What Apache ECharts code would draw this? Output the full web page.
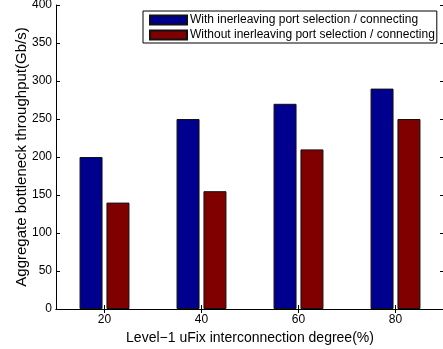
<!DOCTYPE html>
<html><head><meta charset="utf-8">
<script src="https://cdn.jsdelivr.net/npm/echarts@6/dist/echarts.min.js"></script>
<style>html,body{margin:0;padding:0;background:#fff}#c{width:443px;height:349px}</style>
</head><body><div id="c"></div>
<script>
var categories = ['20', '40', '60', '80'];
var seriesNames = ['With inerleaving port selection / connecting', 'Without inerleaving port selection / connecting'];
var withInterleaving = [200, 250, 270, 290];
var withoutInterleaving = [140, 155, 210, 250];
var yTicks = [0, 50, 100, 150, 200, 250, 300, 350, 400];

var FONT = 'Liberation Sans, Arial, Helvetica, sans-serif';
var chart = echarts.init(document.getElementById('c'), null, {renderer: 'canvas'});
var axisLine = {show: true, lineStyle: {color: '#000', width: 1}};
chart.setOption({
  animation: false,
  backgroundColor: '#fff',
  textStyle: {fontFamily: FONT},
  grid: {left: 56, top: 5, width: 388, height: 304, containLabel: false, outerBoundsMode: 'none'},
  legend: {
    orient: 'vertical', left: 143, top: 11,
    padding: [2, 2, 1, 6],
    itemWidth: 37, itemHeight: 9, itemGap: 1,
    backgroundColor: '#fff', borderColor: '#000', borderWidth: 1,
    icon: 'rect',
    textStyle: {fontFamily: FONT, fontSize: 12, lineHeight: 14, color: '#000', padding: [0, 0, 0, -2]},
    data: seriesNames
  },
  xAxis: [{
    type: 'category', data: categories, position: 'bottom',
    boundaryGap: true,
    axisLine: axisLine,
    axisTick: {show: true, inside: true, alignWithLabel: true, length: 4, lineStyle: {color: '#000'}},
    axisLabel: {fontFamily: FONT, fontSize: 12, color: '#000', margin: 5},
    name: 'Level\u22121 uFix interconnection degree(%)',
    nameLocation: 'middle', nameGap: 22, nameMoveOverlap: false,
    nameTextStyle: {fontFamily: FONT, fontSize: 14, color: '#000'},
    splitLine: {show: false}
  }, {
    type: 'category', data: categories, position: 'top',
    boundaryGap: true,
    axisLine: axisLine,
    axisTick: {show: true, inside: true, alignWithLabel: true, length: 4, lineStyle: {color: '#000'}},
    axisLabel: {show: false},
    splitLine: {show: false}
  }],
  yAxis: [{
    type: 'value', min: 0, max: 400, interval: 50, position: 'left',
    axisLine: axisLine,
    axisTick: {show: true, inside: true, length: 4, lineStyle: {color: '#000'}},
    axisLabel: {fontFamily: FONT, fontSize: 12, color: '#000', margin: 4,
      formatter: function (v) { return yTicks.indexOf(v) >= 0 ? String(v) : ''; }},
    splitLine: {show: false},
    name: 'Aggregate bottleneck throughput(Gb/s)',
    nameLocation: 'middle', nameGap: 27, nameRotate: 90, nameMoveOverlap: false,
    nameTextStyle: {fontFamily: FONT, fontSize: 15, color: '#000'}
  }, {
    type: 'value', min: 0, max: 400, interval: 50, position: 'right',
    axisLine: axisLine,
    axisTick: {show: true, inside: true, length: 4, lineStyle: {color: '#000'}},
    axisLabel: {show: false},
    splitLine: {show: false}
  }],
  series: [{
    name: seriesNames[0], type: 'bar', data: withInterleaving,
    barWidth: 23, barGap: '17%',
    itemStyle: {color: '#00008f', borderColor: '#111', borderWidth: 1}
  }, {
    name: seriesNames[1], type: 'bar', data: withoutInterleaving,
    barWidth: 23, barGap: '17%',
    itemStyle: {color: '#800000', borderColor: '#111', borderWidth: 1}
  }]
});
</script></body></html>
